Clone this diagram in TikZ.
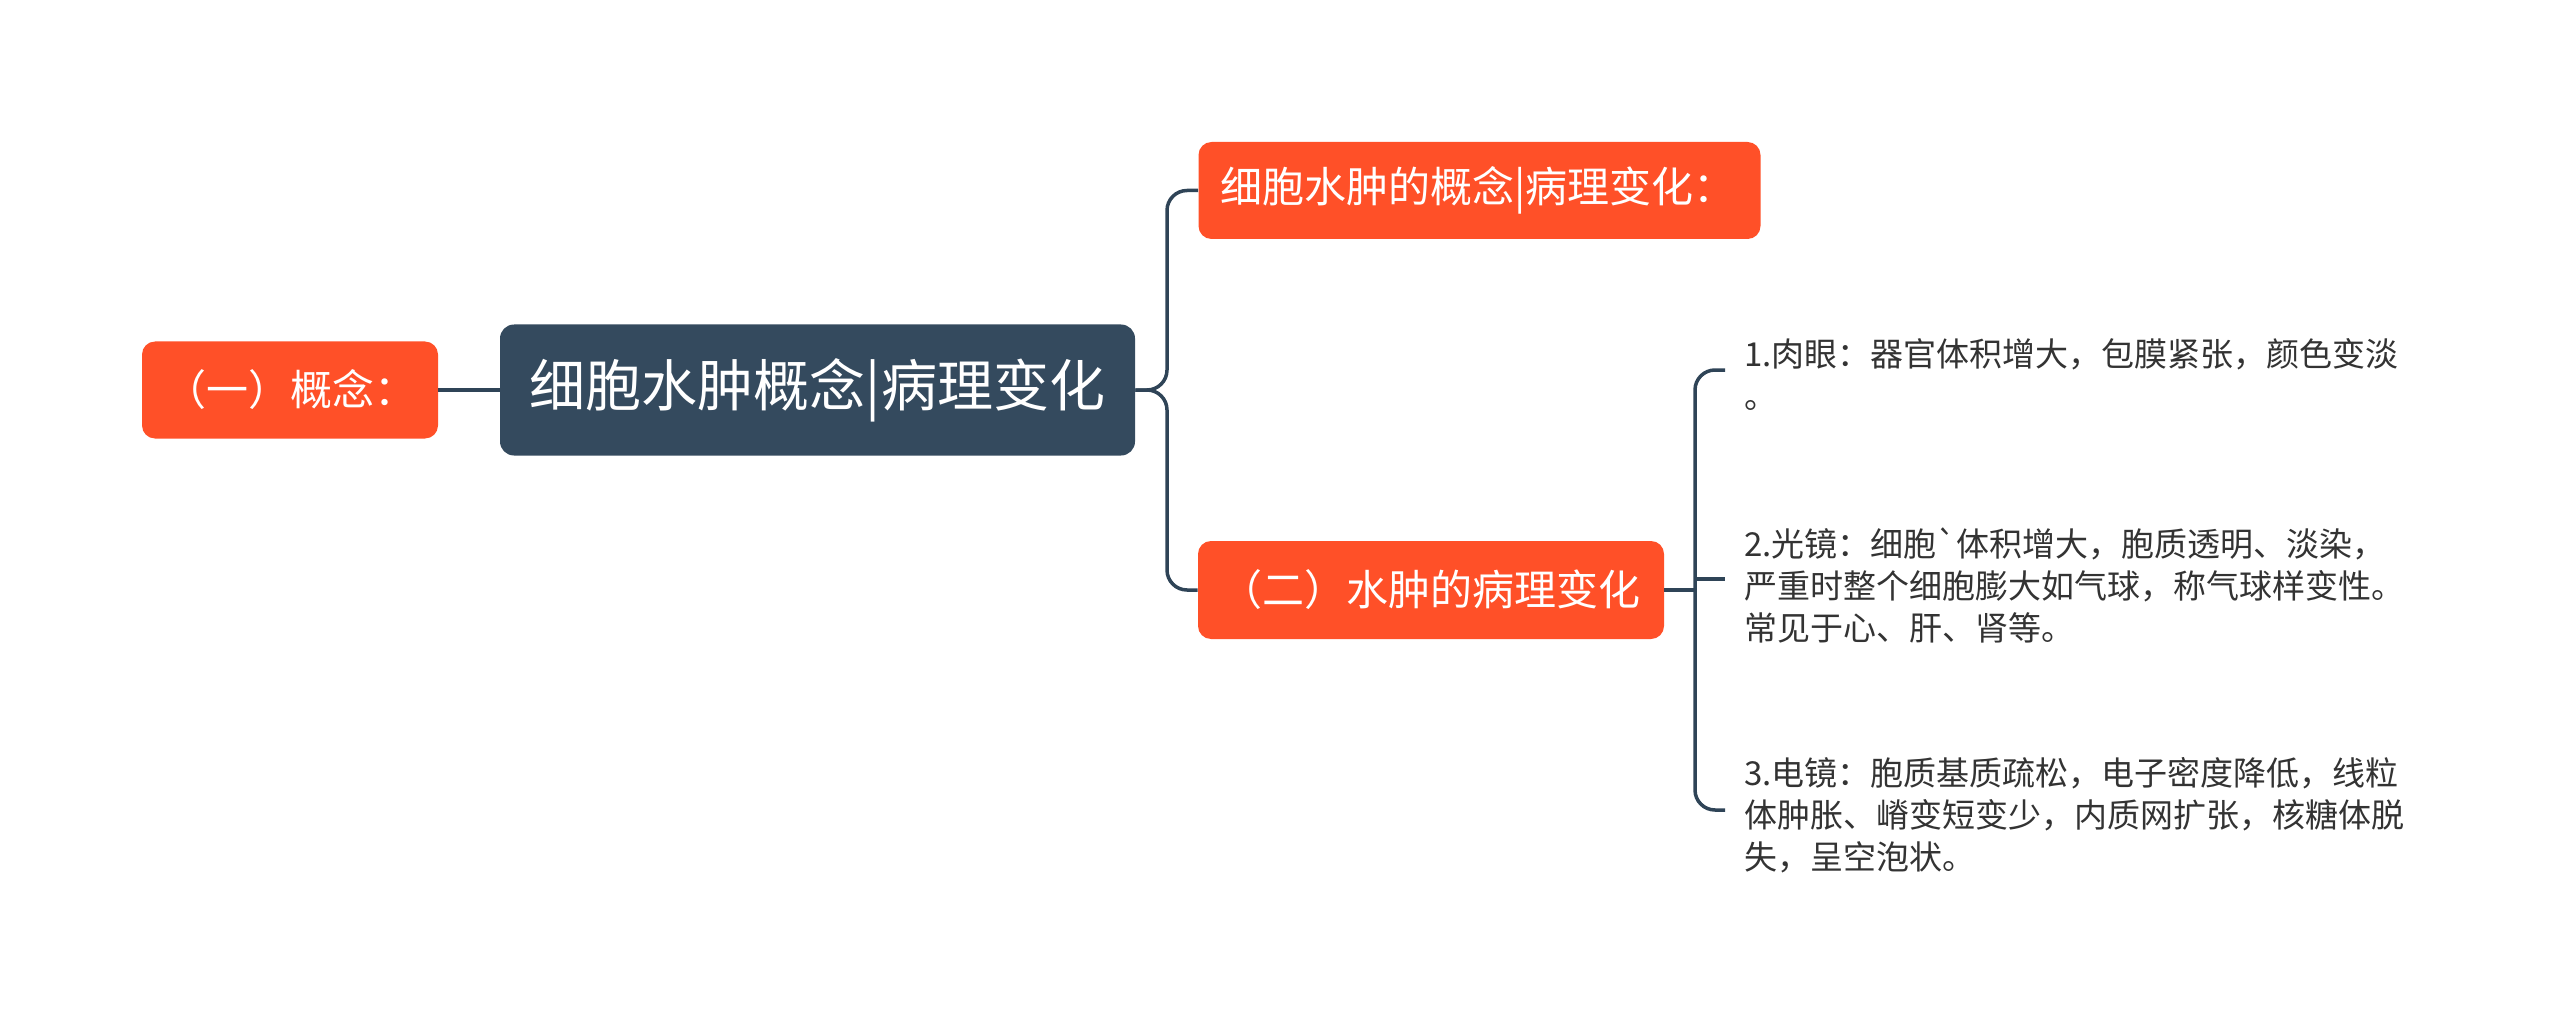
\documentclass[tikz,border=0pt]{standalone}
\usepackage{fontspec}
\newfontfamily\cjk{Noto Sans CJK SC}
\definecolor{orng}{HTML}{FF5028}
\definecolor{navy}{HTML}{344A5E}
\definecolor{lnc}{HTML}{2F4457}
\definecolor{txt}{HTML}{333333}
\begin{document}
\begin{tikzpicture}[x=0.5pt,y=-0.5pt,
  obox/.style={fill=orng, rounded corners=6.5pt, text=white, inner ysep=0pt,
    font=\cjk\fontsize{21pt}{24pt}\selectfont},
  cbox/.style={fill=navy, rounded corners=7pt, text=white, inner sep=0pt,
    minimum width=317.5pt, minimum height=65.5pt,
    font=\cjk\fontsize{28pt}{32pt}\selectfont},
  rtext/.style={anchor=west, align=left, inner sep=0pt, text=txt,
    font=\cjk\fontsize{16.5pt}{21pt}\selectfont},
  conn/.style={draw=lnc, line width=1.75pt, rounded corners=10pt}]
\useasboundingbox (0,0) rectangle (2560,1032);

% nodes
\node[obox, inner xsep=0pt, minimum width=148pt, minimum height=48.5pt] (kL) at (290,390) {（一）概念：};
\node[cbox] (kC) at (817.5,390) {细胞水肿概念|病理变化};
\node[obox, inner xsep=11pt, text width=259pt, align=left, minimum height=48.5pt] (kT) at (1479.5,190.5) {细胞水肿的概念|病理变化：};
\node[obox, inner xsep=11pt, text width=211pt, align=left, minimum height=49pt] (kB) at (1431,590) {（二）水肿的病理变化};

\node[rtext] (t1) at (1744,374) {1.肉眼：器官体积增大，包膜紧张，颜色变淡\\。};
\node[rtext] (t2) at (1744,585) {2.光镜：细胞`体积增大，胞质透明、淡染，\\严重时整个细胞膨大如气球，称气球样变性。\\常见于心、肝、肾等。};
\node[rtext] (t3) at (1744,815) {3.电镜：胞质基质疏松，电子密度降低，线粒\\体肿胀、嵴变短变少，内质网扩张，核糖体脱\\失，呈空泡状。};

% coordinates
\coordinate (s1) at (1167,390);
\coordinate (s2) at (1695,590);
\coordinate (e1) at (1725,370);
\coordinate (e2) at (1725,579);
\coordinate (e3) at (1725,810);

% connectors
\draw[conn] (kL.east) -- (kC.west);
\draw[conn] (kC.east) -- (s1) |- (kT.west);
\draw[conn] (kC.east) -- (s1) |- (kB.west);
\draw[conn] (kB.east) -- (s2);
\draw[conn] (e1) -| (s2) |- (e3);
\draw[conn] (s2 |- e2) -- (e2);
\end{tikzpicture}
\end{document}
